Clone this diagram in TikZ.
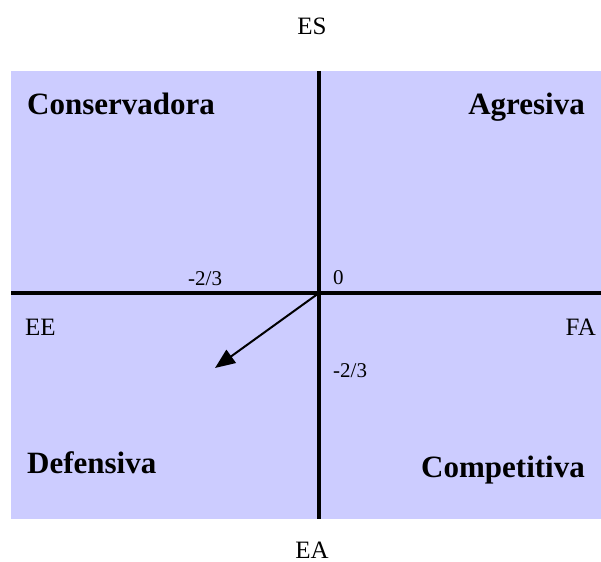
\documentclass[tikz,border=0pt]{standalone}
\usepackage{fontspec}
\setmainfont{Liberation Serif}
\usetikzlibrary{arrows.meta}
\definecolor{quad}{RGB}{204,204,255}
\begin{document}
\begin{tikzpicture}[x=1bp,y=-1bp,
  lbl/.style={inner sep=0pt,font=\fontsize{21bp}{24bp}\selectfont},
  albl/.style={inner sep=0pt,font=\fontsize{25bp}{28bp}\selectfont},
  qlbl/.style={inner sep=0pt,font=\fontsize{31bp}{35bp}\selectfont\bfseries},
  axis/.style={line width=4.5bp},
  vec/.style={line width=2bp,-{Triangle[length=20bp,width=16bp]}}]
\useasboundingbox (0,0) rectangle (601,562);
\fill[quad] (11,71) rectangle (601,519);
\coordinate (top) at (319,71);
\coordinate (bot) at (319,519);
\coordinate (lft) at (11,293);
\coordinate (rgt) at (601,293);
\coordinate (o) at (319,293);
\coordinate (tip) at (215,368);
\draw[axis] (top) -- (bot);
\draw[axis] (lft) -- (rgt);
\draw[vec] (o) -- (tip);
\node[albl,anchor=base] (es) at (312,35) {ES};
\node[albl,anchor=base] (ea) at (312,558) {EA};
\node[albl,anchor=base west] (ee) at (25,335) {EE};
\node[albl,anchor=base east] (fa) at (596,335) {FA};
\node[lbl,anchor=base west] (zero) at (333,284) {0};
\node[lbl,anchor=base west] (mh) at (188,285) {-2/3};
\node[lbl,anchor=base west] (mv) at (333,377) {-2/3};
\node[qlbl,anchor=base west] (cons) at (27,115) {Conservadora};
\node[qlbl,anchor=base east] (agr) at (585,115) {Agresiva};
\node[qlbl,anchor=base west] (def) at (27,473) {Defensiva};
\node[qlbl,anchor=base east] (comp) at (585,477) {Competitiva};
\end{tikzpicture}
\end{document}
